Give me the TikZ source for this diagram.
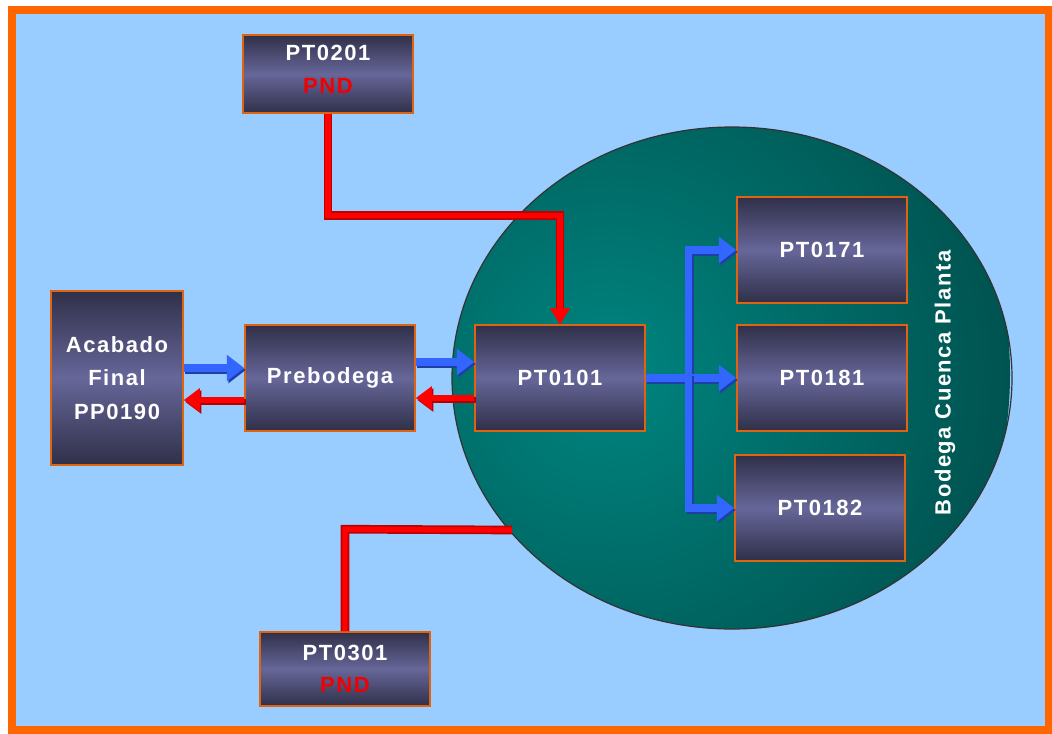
\documentclass[tikz,border=0pt]{standalone}
\usepackage{fontspec}
\setmainfont{Liberation Sans}
\usetikzlibrary{arrows.meta,calc,shapes.geometric}
\definecolor{skyb}{HTML}{99CCFF}
\definecolor{framec}{HTML}{FF6600}
\definecolor{boxtop}{HTML}{30304A}
\definecolor{boxmid}{HTML}{666699}
\definecolor{boxedge}{HTML}{E0640F}
\definecolor{tealin}{HTML}{008580}
\definecolor{tealout}{HTML}{005350}
\definecolor{arrblue}{HTML}{3366FF}
\definecolor{arrshadow}{HTML}{1F3FA8}
\definecolor{arrred}{HTML}{FF0000}
\definecolor{pndred}{HTML}{F00000}
\begin{document}
\begin{tikzpicture}[x=0.75pt,y=-0.75pt,
  boxnode/.style={draw=boxedge, line width=1.2pt, top color=boxtop, bottom color=boxtop, middle color=boxmid,
    text=white, align=center, font=\fontsize{16.5}{25}\selectfont\bfseries\addfontfeatures{LetterSpace=7},
    minimum width=127.5pt, minimum height=79.5pt, inner sep=0pt},
  bluearrow/.style={draw=arrblue, line width=5.5pt, -{Triangle[length=13pt,width=19pt]},
    preaction={draw=arrshadow, line width=5.5pt, -{Triangle[length=13pt,width=19pt]}, transform canvas={shift={(1.2pt,-1.5pt)}}}},
  redarrow/.style={draw=arrred, line width=5pt, -{Triangle[length=12pt,width=17pt]},
    preaction={draw=red!70!black, line width=5pt, -{Triangle[length=12pt,width=17pt]}, transform canvas={shift={(1.2pt,-1.5pt)}}}},
  redline/.style={draw=red!75!black, line width=6.5pt,
    postaction={draw=arrred, line width=4pt}},
  pnd/.style={text=pndred}
]
\useasboundingbox (0,0) rectangle (1052,733);
\fill[white] (0,0) rectangle (1052,733);
\draw[framec, line width=5.5pt, fill=skyb] (12,10) rectangle (1049,730);

% big circle
\begin{scope}
  \clip (732,378) ellipse [x radius=280, y radius=251];
  \shade[inner color=tealin, outer color=tealout] (610,374) circle [radius=400];
\end{scope}
\draw[black!80, line width=0.9pt] (732,378) ellipse [x radius=280, y radius=251];

\node[boxnode, minimum height=58.5pt] (pt0201) at (328,74) {PT0201\\[0pt]\textcolor{pndred}{PND}\\[-17.5pt]};
\node[boxnode, minimum width=99pt, minimum height=130.5pt] (acab) at (117,378) {Acabado\\Final\\PP0190};
\node[boxnode] (preb) at (330,378) {Prebodega};
\node[boxnode] (pt0101) at (560,378) {PT0101};
\node[boxnode] (pt0171) at (822,250) {PT0171};
\node[boxnode] (pt0181) at (822,378) {PT0181};
\node[boxnode] (pt0182) at (820,508) {PT0182};
\node[boxnode, minimum height=55.5pt] (pt0301) at (345,669) {PT0301\\[-1pt]\textcolor{pndred}{PND}};

\node[rotate=90, text=white, font=\fontsize{16.5}{20}\selectfont\bfseries\addfontfeatures{LetterSpace=7}] (bcp) at (945,383) {Bodega Cuenca Planta};

% red connectors
\draw[redline] (pt0201.south) -- ++(0,102) -| ($(pt0101.north)+(0,-14)$);
\draw[-{Triangle[length=12pt,width=15pt]}, arrred, line width=0.1pt] ($(pt0101.north)+(0,-16)$) -- (pt0101.north);
\coordinate (cedge) at (512,530);
\draw[redline] (pt0301.north) -- ++(0,-102) -- (cedge);

% acabado <-> prebodega
\draw[bluearrow] ($(acab.east)+(0,-10)$) -- ($(preb.west)+(0,-10)$);
\draw[redarrow] ($(preb.west)+(0,22)$) -- ($(acab.east)+(0,22)$);
% prebodega <-> pt0101
\draw[bluearrow] ($(preb.east)+(0,-16)$) -- ($(pt0101.west)+(0,-16)$);
\draw[redarrow] ($(pt0101.west)+(0,20)$) -- ($(preb.east)+(0,20)$);

% fork
\draw[bluearrow] (pt0101.east) -- ++(43,0) |- (pt0171.west);
\draw[bluearrow] (pt0101.east) -- (pt0181.west);
\draw[bluearrow] (pt0101.east) -- ++(43,0) |- (pt0182.west);
\end{tikzpicture}
\end{document}
